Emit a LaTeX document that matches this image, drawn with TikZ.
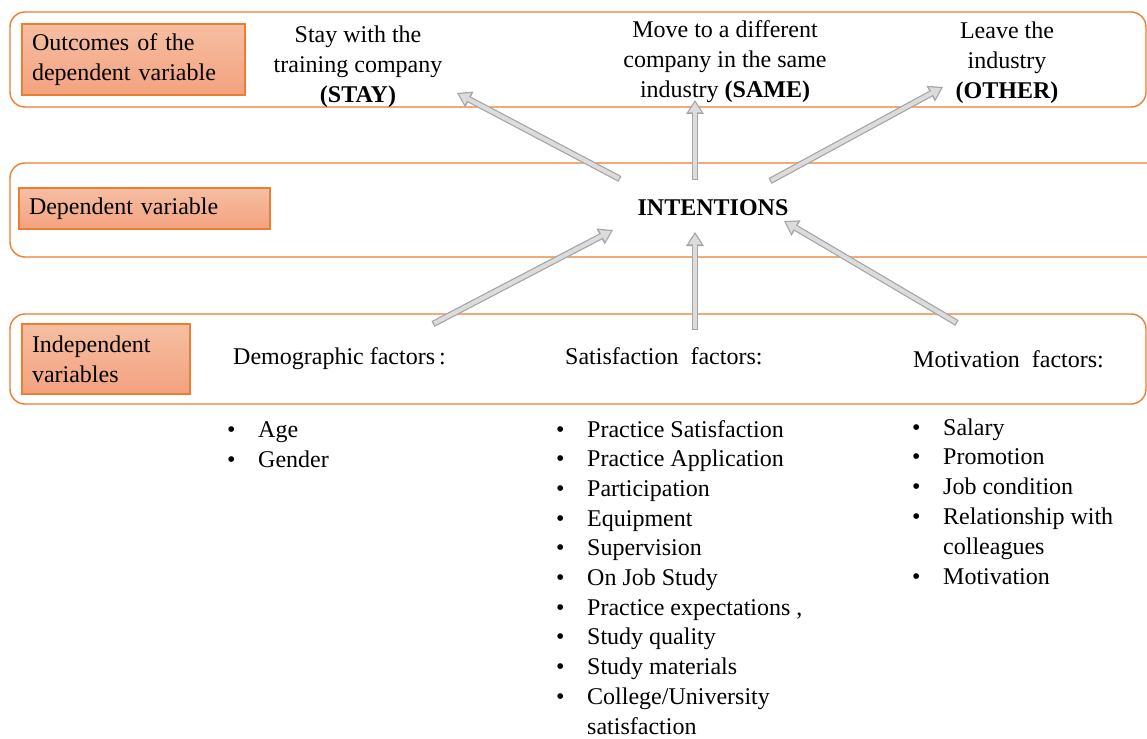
\documentclass[tikz,border=0pt]{standalone}
\usepackage{fontspec}
\setmainfont{Liberation Serif}
\usepackage{xcolor}
\usepackage{tikz}
\usetikzlibrary{arrows.meta}

\definecolor{bandorange}{HTML}{ED7D31}
\definecolor{lbltop}{HTML}{F6BEA2}
\definecolor{lblbot}{HTML}{F3A27F}
\definecolor{arrline}{HTML}{A6A6A6}
\definecolor{arrfill}{HTML}{DCDCDC}

\tikzset{
  band/.style={draw=bandorange, line width=1.4pt, rounded corners=15pt},
  lbl/.style={draw=bandorange, line width=1.2pt, top color=lbltop, bottom color=lblbot,
    align=left, inner xsep=10pt, inner ysep=0pt},
  item/.style={anchor=base west, inner sep=0pt},
  fatout/.style={line width=6.5pt, draw=arrline,
    -{Triangle[length=14pt,width=18pt,line width=0pt]}},
  fatin/.style={line width=4pt, draw=arrfill, shorten <=1.3pt, shorten >=2.4pt,
    -{Triangle[length=10pt,width=13pt,line width=0pt]}}
}
\newcommand{\bul}{\makebox[31pt][l]{\textbullet}}

\begin{document}
\begin{tikzpicture}[x=1pt,y=-1pt,font=\fontsize{24}{30}\selectfont]
  \useasboundingbox (0,0) rectangle (1147,738);
  % Bands
  \draw[band] (10,12) rectangle (1146,107);
  \draw[band] (10,163) rectangle (1170,257);
  \draw[band] (10,314) rectangle (1146,404);
  % Labels
  \node[lbl, text width=203pt, minimum height=71pt] (outc) at (133.5,59.5) {Outcomes of the\\dependent variable};
  \node[lbl, text width=231pt, minimum height=41pt] (depv) at (144.5,208.5) {Dependent variable};
  \node[lbl, text width=148pt, minimum height=70pt] (indv) at (106,359) {Independent\\variables};
  % Outcomes
  \node[align=center, inner sep=0pt] (stay) at (358,67) {Stay with the\\training company\\\textbf{(STAY)}};
  \node[align=center, inner sep=0pt] (same) at (725,62) {Move to a different\\company in the same\\industry \textbf{(SAME)}};
  \node[align=center, inner sep=0pt] (other) at (1007,63) {Leave the\\industry\\\textbf{(OTHER)}};
  \node[inner sep=0pt] (intent) at (713,208) {\textbf{INTENTIONS}};
  % Factors
  \node[item] (demo) at (233,364) {Demographic factors\,:};
  \node[item] (sat) at (565,364) {Satisfaction\ \ factors:};
  \node[item] (mot) at (913,367) {Motivation\ \ factors:};
  \foreach \t [count=\i from 0] in {\bul Age, \bul Gender}
    \node[item] (dem\i) at (227,437+\i*30) {\t};
  \foreach \t [count=\i from 0] in {\bul Practice Satisfaction, \bul Practice Application,
      \bul Participation, \bul Equipment, \bul Supervision, \bul On Job Study,
      {\bul Practice expectations ,}, \bul Study quality, \bul Study materials,
      \bul College/University, \hspace*{31pt}satisfaction}
    \node[item] (sf\i) at (556,437+\i*29.7) {\t};
  \foreach \t [count=\i from 0] in {\bul Salary, \bul Promotion, \bul Job condition,
      \bul Relationship with, \hspace*{31pt}colleagues, \bul Motivation}
    \node[item] (mv\i) at (912,435+\i*29.8) {\t};
  % Arrows
  \coordinate (st0) at (620,179); \coordinate (st1) at (457,93);
  \coordinate (sa0) at (695,180); \coordinate (sa1) at (695,100);
  \coordinate (ot0) at (770,181); \coordinate (ot1) at (943,87);
  \coordinate (de0) at (433,324); \coordinate (de1) at (613,230);
  \coordinate (sq0) at (695,330); \coordinate (sq1) at (695,232);
  \coordinate (mo0) at (957,323); \coordinate (mo1) at (784,221);
  \foreach \a/\b in {st0/st1, sa0/sa1, ot0/ot1, de0/de1, sq0/sq1, mo0/mo1} {
    \draw[fatout] (\a) -- (\b);
    \draw[fatin] (\a) -- (\b);
  }
\end{tikzpicture}
\end{document}
